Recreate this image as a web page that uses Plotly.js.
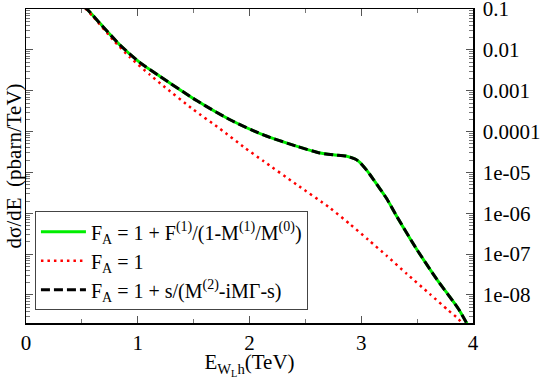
<!DOCTYPE html>
<html>
<head>
<meta charset="utf-8">
<script src="https://cdn.plot.ly/plotly-3.0.1.min.js"></script>
<style>
  html, body { margin: 0; padding: 0; background: #fff; }
  #chart { width: 540px; height: 379px; }
</style>
</head>
<body>
<div id="chart"></div>
<script>
// E (TeV) and dsigma/dE (pbarn/TeV)
const xFull = [0.52, 0.546, 0.662, 0.841, 1.02, 1.2, 1.527, 1.826, 2.124, 2.42, 2.63, 2.75, 2.87, 2.95, 2.99, 3.05, 3.108, 3.227, 3.317, 3.496, 3.675, 3.869, 3.95];
const yFull = [0.112, 0.1, 0.0447, 0.0132, 0.0049, 0.00224, 5.75e-4, 1.95e-4, 8.3e-5, 4.4e-5, 3.0e-5, 2.7e-5, 2.5e-5, 2.1e-5, 1.74e-5, 1.12e-5, 6.8e-6, 2.3e-6, 8.5e-7, 1.32e-7, 2.45e-8, 4.6e-9, 1.9e-9];

const xBW = [0.52, 0.546, 0.662, 0.841, 1.02, 1.2, 1.527, 1.826, 2.124, 2.42, 2.63, 2.75, 2.87, 2.95, 2.99, 3.05, 3.108, 3.227, 3.317, 3.496, 3.675, 3.869, 3.95];
const yBW = [0.112, 0.1, 0.0447, 0.0132, 0.0049, 0.00224, 5.75e-4, 1.95e-4, 8.3e-5, 4.4e-5, 3.0e-5, 2.7e-5, 2.5e-5, 2.1e-5, 1.74e-5, 1.12e-5, 6.8e-6, 2.3e-6, 8.5e-7, 1.32e-7, 2.45e-8, 4.6e-9, 1.9e-9];

const xOne = [0.53, 0.602, 0.781, 0.93, 1.11, 1.229, 1.497, 1.736, 1.96, 2.124, 2.42, 2.72, 2.9, 3.063, 3.228, 3.407, 3.615, 3.779, 3.869, 3.9];
const yOne = [0.105, 0.0646, 0.0174, 0.0066, 0.00245, 0.00132, 3.47e-4, 1.17e-4, 3.98e-5, 1.9e-5, 5.1e-6, 1.35e-6, 5.4e-7, 2.24e-7, 9.1e-8, 3.3e-8, 1.05e-8, 4.2e-9, 2.6e-9, 2.0e-9];

const yTickVals = [0.1, 0.01, 0.001, 0.0001, 1e-5, 1e-6, 1e-7, 1e-8];
const yTickText = ['0.1', '0.01', '0.001', '0.0001', '1e-05', '1e-06', '1e-07', '1e-08'];

const names = [
  'F<sub>A</sub> = 1 + F<sup>(1)</sup>/(1-M<sup>(1)</sup>/M<sup>(0)</sup>)',
  'F<sub>A</sub> = 1',
  'F<sub>A</sub> = 1 + s/(M<sup>(2)</sup>-iMΓ-s)'
];

// minor ticks 2..9 in each decade
const yMinor = [];
for (let e = -9; e <= -2; e++) {
  for (let m = 2; m <= 9; m++) yMinor.push(m * Math.pow(10, e));
}

const serif = 'Liberation Serif';

const traces = [
  {
    x: xFull, y: yFull, name: names[0], type: 'scatter', mode: 'lines',
    line: { color: '#00ee00', width: 3, shape: 'spline', smoothing: 0.6 }
  },
  {
    x: xOne, y: yOne, name: names[1], type: 'scatter', mode: 'lines',
    line: { color: '#ff0000', width: 2.5, dash: '2.5px,4px', shape: 'spline', smoothing: 0.6 }
  },
  {
    x: xBW, y: yBW, name: names[2], type: 'scatter', mode: 'lines',
    line: { color: '#000000', width: 3, dash: '9px,4px', shape: 'spline', smoothing: 0.6 }
  }
];

const layout = {
  width: 540,
  height: 379,
  margin: { l: 26, r: 67, t: 9, b: 56 },
  paper_bgcolor: '#fff',
  plot_bgcolor: '#fff',
  font: { family: serif, size: 18, color: '#000' },
  showlegend: true,
  legend: {
    x: 0.02, y: 0.356, xanchor: 'left', yanchor: 'top',
    bgcolor: '#fff', bordercolor: '#444', borderwidth: 1,
    font: { family: serif, size: 20, color: '#000' },
    itemwidth: 45,
    tracegroupgap: 0
  },
  xaxis: {
    range: [0, 4],
    dtick: 1,
    ticks: 'inside', ticklen: 7, tickcolor: '#555', tickwidth: 1,
    minor: { dtick: 0.5, ticks: 'inside', ticklen: 4, tickcolor: '#777' },
    showline: true, linecolor: '#000', linewidth: 1.5, mirror: 'ticks',
    showgrid: false, zeroline: false,
    tickfont: { family: serif, size: 21 },
    title: { text: 'E<sub>W<sub>L</sub>h</sub>(TeV)', font: { family: serif, size: 21 }, standoff: 4 }
  },
  yaxis: {
    type: 'log',
    range: [-8.686, -0.998],
    side: 'right',
    tickmode: 'array', tickvals: yTickVals, ticktext: yTickText,
    ticklabeloverflow: 'allow',
    ticklabelstandoff: 4,
    ticks: 'inside', ticklen: 7, tickcolor: '#555', tickwidth: 1,
    minor: { tickmode: 'array', tickvals: yMinor, ticks: 'inside', ticklen: 4, tickcolor: '#777' },
    showline: true, linecolor: '#000', linewidth: 1.5, mirror: 'ticks',
    showgrid: false, zeroline: false,
    tickfont: { family: serif, size: 21 }
  },
  annotations: [{
    text: 'dσ/dE  (pbarn/TeV)',
    xref: 'paper', yref: 'paper', x: -0.026, y: 0.5,
    xanchor: 'center', yanchor: 'middle',
    textangle: -90, showarrow: false,
    font: { family: serif, size: 21, color: '#000' }
  }]
};

Plotly.newPlot('chart', traces, layout, { displayModeBar: false, staticPlot: true });
</script>
</body>
</html>
